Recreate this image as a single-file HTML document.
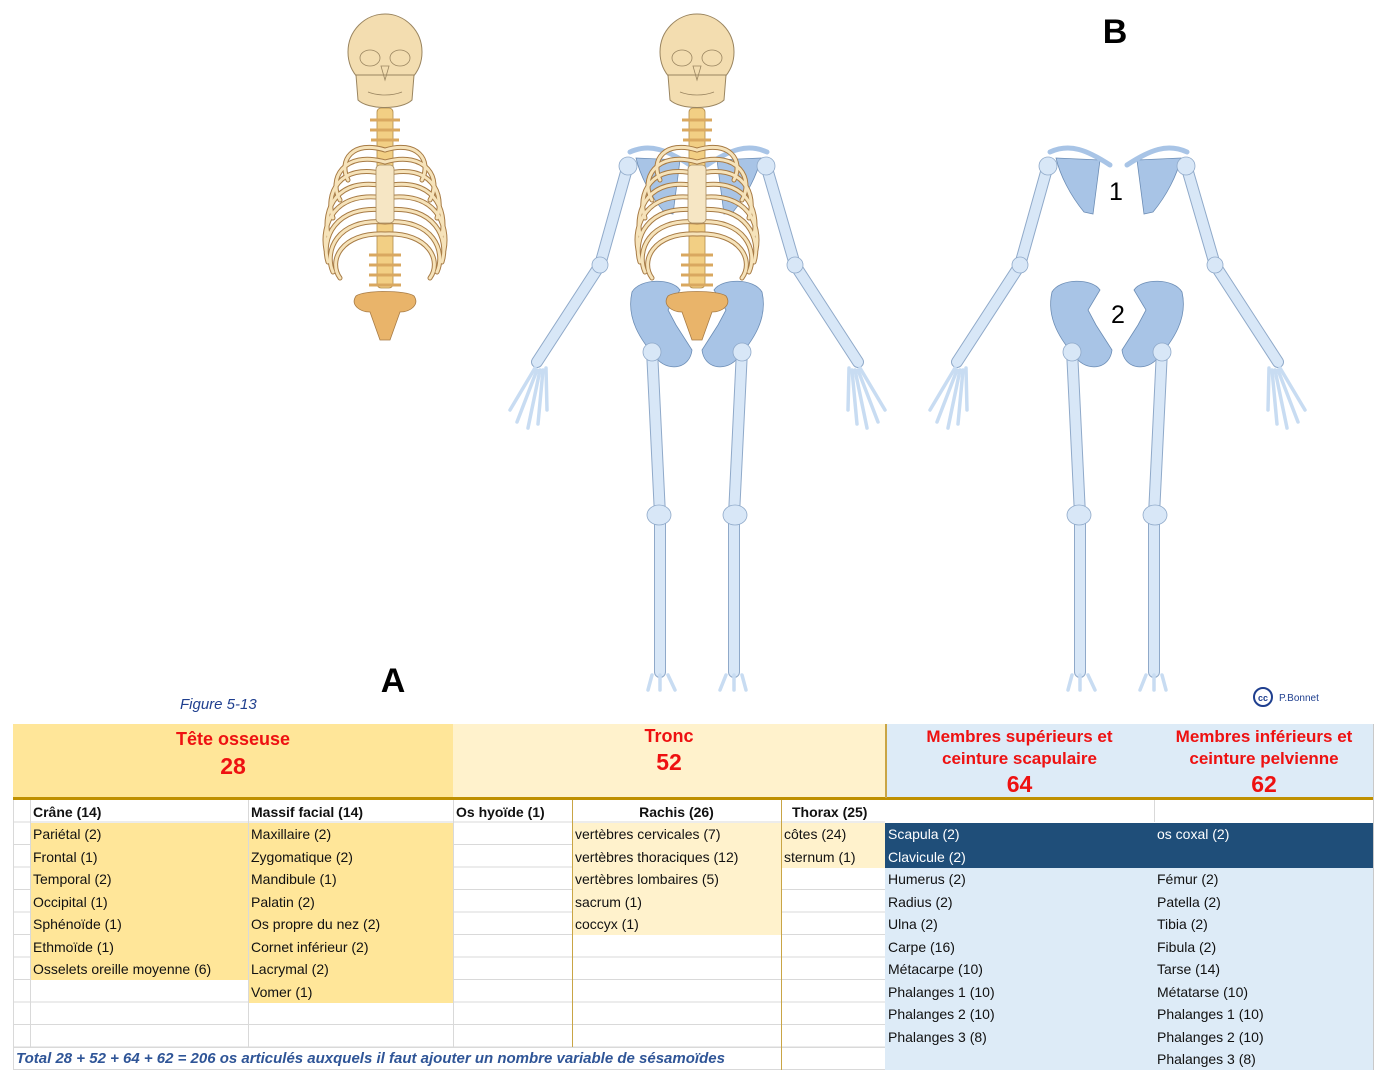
<!DOCTYPE html>
<html><head><meta charset="utf-8"><style>
body{margin:0;width:1386px;height:1076px;background:#fff;position:relative;overflow:hidden;font-family:"Liberation Sans",sans-serif}
.a{position:absolute}
.c{position:absolute;font-size:14px;line-height:22px;white-space:nowrap;color:#111}
.h{position:absolute;color:#ee1111;font-weight:bold;text-align:center}
</style></head><body>
<svg class="a" style="left:0;top:0" width="1386" height="720" viewBox="0 0 1386 720">
<defs>
<g id="trunk">
 <rect x="689" y="108" width="16" height="180" rx="4" fill="#F2CF84" stroke="#b08a4a" stroke-width="0.8"/>
 <g stroke="#d9a860" stroke-width="3">
  <line x1="682" y1="120" x2="712" y2="120"/><line x1="682" y1="130" x2="712" y2="130"/><line x1="683" y1="140" x2="711" y2="140"/>
  <line x1="681" y1="265" x2="713" y2="265"/><line x1="681" y1="275" x2="713" y2="275"/><line x1="681" y1="285" x2="713" y2="285"/><line x1="681" y1="255" x2="713" y2="255"/>
 </g>
 <g fill="none" stroke-linecap="round">
  <g stroke="#a77b45" stroke-width="5">
   <path d="M697 150 C665 140 650 160 660 180"/><path d="M697 150 C729 140 744 160 734 180"/>
   <path d="M697 162 C655 150 640 180 652 200"/><path d="M697 162 C739 150 754 180 742 200"/>
   <path d="M697 174 C650 162 637 195 645 218"/><path d="M697 174 C744 162 757 195 749 218"/>
   <path d="M697 186 C648 176 635 210 640 235"/><path d="M697 186 C746 176 759 210 754 235"/>
   <path d="M697 198 C646 190 633 225 638 250"/><path d="M697 198 C748 190 761 225 756 250"/>
   <path d="M697 210 C646 204 633 240 640 262"/><path d="M697 210 C748 204 761 240 754 262"/>
   <path d="M697 222 C648 218 636 252 645 272"/><path d="M697 222 C746 218 758 252 749 272"/>
   <path d="M697 234 C652 232 640 262 652 278"/><path d="M697 234 C742 232 754 262 742 278"/>
  </g>
  <g stroke="#F6E3BA" stroke-width="3">
   <path d="M697 150 C665 140 650 160 660 180"/><path d="M697 150 C729 140 744 160 734 180"/>
   <path d="M697 162 C655 150 640 180 652 200"/><path d="M697 162 C739 150 754 180 742 200"/>
   <path d="M697 174 C650 162 637 195 645 218"/><path d="M697 174 C744 162 757 195 749 218"/>
   <path d="M697 186 C648 176 635 210 640 235"/><path d="M697 186 C746 176 759 210 754 235"/>
   <path d="M697 198 C646 190 633 225 638 250"/><path d="M697 198 C748 190 761 225 756 250"/>
   <path d="M697 210 C646 204 633 240 640 262"/><path d="M697 210 C748 204 761 240 754 262"/>
   <path d="M697 222 C648 218 636 252 645 272"/><path d="M697 222 C746 218 758 252 749 272"/>
   <path d="M697 234 C652 232 640 262 652 278"/><path d="M697 234 C742 232 754 262 742 278"/>
  </g>
 </g>
 <rect x="688" y="165" width="18" height="58" rx="4" fill="#F6E6C4" stroke="#a88c60" stroke-width="0.8"/>
 <path d="M668 296 C676 290 718 290 726 296 C732 305 722 312 712 312 L702 340 L692 340 L682 312 C672 312 662 305 668 296 Z" fill="#E9B46A" stroke="#a77b45" stroke-width="0.8"/>
 <ellipse cx="697" cy="52" rx="37" ry="38" fill="#F3DDB0" stroke="#9a8560" stroke-width="1"/>
 <path d="M668 75 L670 100 C680 110 714 110 724 100 L726 75 Z" fill="#F3DDB0" stroke="#9a8560" stroke-width="1"/>
 <ellipse cx="682" cy="58" rx="10" ry="8" fill="none" stroke="#9a8560" stroke-width="0.8"/>
 <ellipse cx="712" cy="58" rx="10" ry="8" fill="none" stroke="#9a8560" stroke-width="0.8"/>
 <path d="M693 66 L697 80 L701 66 Z" fill="none" stroke="#9a8560" stroke-width="0.8"/>
 <path d="M680 92 C690 96 704 96 714 92" fill="none" stroke="#9a8560" stroke-width="0.8"/>
</g>
<g id="limbs" stroke-linecap="round" fill="none">
 <path d="M636 158 L680 160 L673 214 L664 212 C650 195 640 175 636 158 Z" fill="#A8C4E6" stroke="#6c8db5" stroke-width="0.8"/>
 <path d="M761 158 L717 160 L724 214 L733 212 C747 195 757 175 761 158 Z" fill="#A8C4E6" stroke="#6c8db5" stroke-width="0.8"/>
 <path d="M630 152 C650 143 667 150 690 165" stroke="#A8C4E6" stroke-width="5"/>
 <path d="M767 152 C747 143 730 150 707 165" stroke="#A8C4E6" stroke-width="5"/>
 <path d="M632 292 C640 278 672 278 680 290 L668 310 L676 325 L692 350 C690 368 670 372 658 360 C640 340 626 318 632 292 Z" fill="#A8C4E6" stroke="#6c8db5" stroke-width="0.8"/>
 <path d="M762 292 C754 278 722 278 714 290 L726 310 L718 325 L702 350 C704 368 724 372 736 360 C754 340 768 318 762 292 Z" fill="#A8C4E6" stroke="#6c8db5" stroke-width="0.8"/>
 <g stroke="#8fa9c9" stroke-width="12">
  <path d="M628 165 L600 265 L537 362"/><path d="M766 165 L795 265 L858 362"/>
  <path d="M652 350 L660 515 L660 672"/><path d="M742 350 L734 515 L734 672"/>
 </g>
 <g stroke="#D8E7F7" stroke-width="10">
  <path d="M628 165 L600 265 L537 362"/><path d="M766 165 L795 265 L858 362"/>
  <path d="M652 350 L660 515 L660 672"/><path d="M742 350 L734 515 L734 672"/>
 </g>
 <g fill="#D8E7F7" stroke="#8fa9c9" stroke-width="0.8">
  <circle cx="652" cy="352" r="9"/><circle cx="742" cy="352" r="9"/>
  <ellipse cx="659" cy="515" rx="12" ry="10"/><ellipse cx="735" cy="515" rx="12" ry="10"/>
  <circle cx="600" cy="265" r="8"/><circle cx="795" cy="265" r="8"/>
  <circle cx="628" cy="166" r="9"/><circle cx="766" cy="166" r="9"/>
 </g>
 <g stroke="#C8DCF2" stroke-width="3.5">
  <path d="M535 368 L510 410"/><path d="M537 370 L517 422"/><path d="M540 370 L528 428"/><path d="M543 370 L538 424"/><path d="M546 368 L547 410"/>
  <path d="M860 368 L885 410"/><path d="M858 370 L878 422"/><path d="M855 370 L867 428"/><path d="M852 370 L857 424"/><path d="M849 368 L848 410"/>
  <path d="M652 675 L648 690 M660 675 L660 690 M668 675 L675 690"/>
  <path d="M742 675 L746 690 M734 675 L734 690 M726 675 L720 690"/>
 </g>
</g>
</defs>
<use href="#trunk" transform="translate(-312,0)"/>
<use href="#limbs"/>
<use href="#trunk"/>
<use href="#limbs" transform="translate(420,0)"/>
<text x="1115" y="43" font-family="Liberation Sans" font-weight="bold" font-size="34" text-anchor="middle">B</text>
<text x="393" y="692" font-family="Liberation Sans" font-weight="bold" font-size="34" text-anchor="middle">A</text>
<text x="1116" y="200" font-family="Liberation Sans" font-size="25" text-anchor="middle">1</text>
<text x="1118" y="323" font-family="Liberation Sans" font-size="25" text-anchor="middle">2</text>
<text x="180" y="709" font-family="Liberation Sans" font-style="italic" font-size="15" fill="#1f3f8f">Figure 5-13</text>
<circle cx="1263" cy="697" r="9" fill="none" stroke="#1f3f8f" stroke-width="2"/>
<text x="1263" y="701" font-family="Liberation Sans" font-weight="bold" font-size="9" fill="#1f3f8f" text-anchor="middle">cc</text>
<text x="1279" y="701" font-family="Liberation Sans" font-size="10" fill="#1f3f8f">P.Bonnet</text>
</svg>

<div class="a" style="left:13px;top:724px;width:440px;height:74px;background:#FFE699"></div>
<div class="a" style="left:453px;top:724px;width:432px;height:74px;background:#FFF2CC"></div>
<div class="a" style="left:885px;top:724px;width:489px;height:74px;background:#DDEBF7"></div>
<div class="a" style="left:13px;top:797px;width:1361px;height:3px;background:#BF9000"></div>
<div class="a" style="left:885px;top:724px;width:2px;height:74px;background:#c9a545"></div>

<div class="a" style="left:13px;top:800px;width:872px;height:270px;
background-image:repeating-linear-gradient(to bottom,transparent 0,transparent 21.5px,#d9d9d9 21.5px,#d9d9d9 22.5px)"></div>
<div class="a" style="left:30px;top:823px;width:218px;height:157px;background:#FFE699"></div>
<div class="a" style="left:248px;top:823px;width:205px;height:180px;background:#FFE699"></div>
<div class="a" style="left:572px;top:823px;width:209px;height:112px;background:#FFF2CC"></div>
<div class="a" style="left:781px;top:823px;width:104px;height:45px;background:#FFF2CC"></div>
<div class="a" style="left:885px;top:800px;width:489px;height:22px;background:#fff"></div>
<div class="a" style="left:1154px;top:800px;width:1px;height:22px;background:#d9d9d9"></div>
<div class="a" style="left:885px;top:823px;width:489px;height:45px;background:#1F4E79"></div>
<div class="a" style="left:885px;top:868px;width:489px;height:202px;background:#DDEBF7"></div>
<div class="a" style="left:13px;top:1047px;width:872px;height:1px;background:#d9d9d9"></div>
<div class="a" style="left:13px;top:1069px;width:872px;height:1px;background:#d9d9d9"></div>
<div class="a" style="left:13px;top:800px;width:1px;height:270px;background:#d9d9d9"></div>
<div class="a" style="left:30px;top:800px;width:1px;height:247px;background:#d9d9d9"></div>
<div class="a" style="left:248px;top:800px;width:1px;height:247px;background:#d9d9d9"></div>
<div class="a" style="left:453px;top:800px;width:1px;height:247px;background:#d9d9d9"></div>
<div class="a" style="left:572px;top:800px;width:1px;height:247px;background:#c9a545"></div>
<div class="a" style="left:781px;top:800px;width:1px;height:270px;background:#c9a545"></div>
<div class="a" style="left:1373px;top:724px;width:1px;height:346px;background:#c9c9c9"></div>

<div class="h" style="left:13px;top:729px;width:440px;font-size:18px;line-height:20px">Tête osseuse</div>
<div class="h" style="left:13px;top:753px;width:440px;font-size:23px;line-height:26px">28</div>
<div class="h" style="left:453px;top:726px;width:432px;font-size:18px;line-height:20px">Tronc</div>
<div class="h" style="left:453px;top:749px;width:432px;font-size:23px;line-height:26px">52</div>
<div class="h" style="left:885px;top:726px;width:269px;font-size:17px;line-height:22px">Membres supérieurs et<br>ceinture scapulaire</div>
<div class="h" style="left:885px;top:771px;width:269px;font-size:23px;line-height:26px">64</div>
<div class="h" style="left:1154px;top:726px;width:220px;font-size:17px;line-height:22px">Membres inférieurs et<br>ceinture pelvienne</div>
<div class="h" style="left:1154px;top:771px;width:220px;font-size:23px;line-height:26px">62</div>

<div class="c" style="left:33px;top:801px;font-weight:bold">Crâne (14)</div>
<div class="c" style="left:251px;top:801px;font-weight:bold">Massif facial (14)</div>
<div class="c" style="left:456px;top:801px;font-weight:bold">Os hyoïde (1)</div>
<div class="c" style="left:572px;top:801px;width:209px;text-align:center;font-weight:bold">Rachis (26)</div>
<div class="c" style="left:792px;top:801px;font-weight:bold">Thorax (25)</div>

<div class="c" style="left:33px;top:823px">Pariétal (2)</div>
<div class="c" style="left:33px;top:846px">Frontal (1)</div>
<div class="c" style="left:33px;top:868px">Temporal (2)</div>
<div class="c" style="left:33px;top:891px">Occipital (1)</div>
<div class="c" style="left:33px;top:913px">Sphénoïde (1)</div>
<div class="c" style="left:33px;top:936px">Ethmoïde (1)</div>
<div class="c" style="left:33px;top:958px">Osselets oreille moyenne (6)</div>
<div class="c" style="left:251px;top:823px">Maxillaire (2)</div>
<div class="c" style="left:251px;top:846px">Zygomatique (2)</div>
<div class="c" style="left:251px;top:868px">Mandibule (1)</div>
<div class="c" style="left:251px;top:891px">Palatin (2)</div>
<div class="c" style="left:251px;top:913px">Os propre du nez (2)</div>
<div class="c" style="left:251px;top:936px">Cornet inférieur (2)</div>
<div class="c" style="left:251px;top:958px">Lacrymal (2)</div>
<div class="c" style="left:251px;top:981px">Vomer (1)</div>
<div class="c" style="left:575px;top:823px">vertèbres cervicales (7)</div>
<div class="c" style="left:575px;top:846px">vertèbres thoraciques (12)</div>
<div class="c" style="left:575px;top:868px">vertèbres lombaires (5)</div>
<div class="c" style="left:575px;top:891px">sacrum (1)</div>
<div class="c" style="left:575px;top:913px">coccyx (1)</div>
<div class="c" style="left:784px;top:823px">côtes (24)</div>
<div class="c" style="left:784px;top:846px">sternum (1)</div>
<div class="c" style="left:888px;top:823px;color:#fff">Scapula (2)</div>
<div class="c" style="left:888px;top:846px;color:#fff">Clavicule (2)</div>
<div class="c" style="left:888px;top:868px">Humerus (2)</div>
<div class="c" style="left:888px;top:891px">Radius (2)</div>
<div class="c" style="left:888px;top:913px">Ulna (2)</div>
<div class="c" style="left:888px;top:936px">Carpe (16)</div>
<div class="c" style="left:888px;top:958px">Métacarpe (10)</div>
<div class="c" style="left:888px;top:981px">Phalanges 1 (10)</div>
<div class="c" style="left:888px;top:1003px">Phalanges 2 (10)</div>
<div class="c" style="left:888px;top:1026px">Phalanges 3 (8)</div>
<div class="c" style="left:1157px;top:823px;color:#fff">os coxal (2)</div>
<div class="c" style="left:1157px;top:868px">Fémur (2)</div>
<div class="c" style="left:1157px;top:891px">Patella (2)</div>
<div class="c" style="left:1157px;top:913px">Tibia (2)</div>
<div class="c" style="left:1157px;top:936px">Fibula (2)</div>
<div class="c" style="left:1157px;top:958px">Tarse (14)</div>
<div class="c" style="left:1157px;top:981px">Métatarse (10)</div>
<div class="c" style="left:1157px;top:1003px">Phalanges 1 (10)</div>
<div class="c" style="left:1157px;top:1026px">Phalanges 2 (10)</div>
<div class="c" style="left:1157px;top:1048px">Phalanges 3 (8)</div>

<div class="c" style="left:16px;top:1048px;font-style:italic;font-weight:bold;color:#2F5597;font-size:15px">Total 28 + 52 + 64 + 62 = 206 os articulés auxquels il faut ajouter un nombre variable de sésamoïdes</div>
</body></html>
